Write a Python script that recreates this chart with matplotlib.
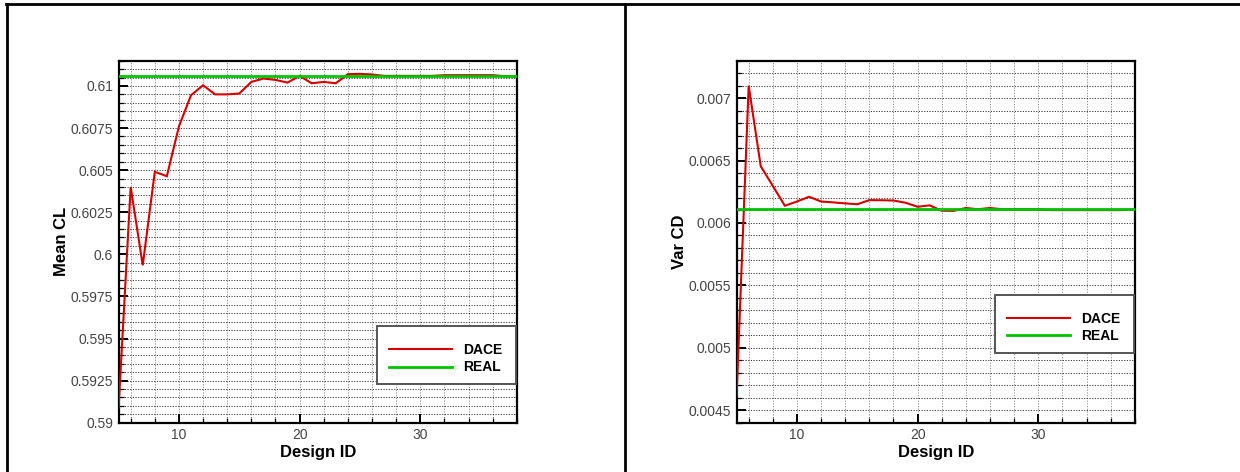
import matplotlib
matplotlib.use("Agg")
import matplotlib.pyplot as plt
from matplotlib.ticker import MultipleLocator, FixedLocator, FixedFormatter
from matplotlib.lines import Line2D
from matplotlib.patches import Rectangle

plt.rcParams['font.family'] = ['Liberation Sans', 'DejaVu Sans']

# ---- data -------------------------------------------------------------
design_id = list(range(5, 39))

mean_cl_dace = [0.5909, 0.6040, 0.59935, 0.60490, 0.60464, 0.60760, 0.60945,
                0.61004, 0.60950, 0.60950, 0.60955, 0.61024, 0.61044, 0.61036,
                0.61020, 0.61060, 0.61016, 0.61024, 0.61016, 0.61070, 0.61072,
                0.61068, 0.61060, 0.61060, 0.61060, 0.61060, 0.61060, 0.61064,
                0.61064, 0.61064, 0.61064, 0.61064, 0.61058, 0.61056]
mean_cl_real = 0.6106

var_cd_dace = [0.004614, 0.007100, 0.006455, 0.006297, 0.006138, 0.006172,
               0.006210, 0.006172, 0.006165, 0.006157, 0.006150, 0.006183,
               0.006182, 0.006180, 0.006162, 0.006130, 0.006141, 0.006098,
               0.006097, 0.006120, 0.006110, 0.006120, 0.006110, 0.006110,
               0.006110, 0.006110, 0.006103, 0.006103, 0.006103, 0.006103,
               0.006103, 0.006103, 0.006103, 0.006110]
var_cd_real = 0.00611

x_ticks = [10, 20, 30]
x_tick_labels = ["10", "20", "30"]

cl_ticks = [0.59, 0.5925, 0.595, 0.5975, 0.60, 0.6025, 0.605, 0.6075, 0.61]
cl_tick_labels = ["0.59", "0.5925", "0.595", "0.5975", "0.6", "0.6025",
                  "0.605", "0.6075", "0.61"]

cd_ticks = [0.0045, 0.005, 0.0055, 0.006, 0.0065, 0.007]
cd_tick_labels = ["0.0045", "0.005", "0.0055", "0.006", "0.0065", "0.007"]

# ---- figure -----------------------------------------------------------
W, H = 1240, 472
fig = plt.figure(figsize=(W / 100, H / 100), dpi=100)
fig.patch.set_facecolor("white")

RED = "#d40000"
GREEN = "#00c400"
TXT = "#444444"


def px_rect(left, top, right, bottom):
    return [left / W, 1 - bottom / H, (right - left) / W, (bottom - top) / H]


def make_panel(rect, y_dace, y_real, ylim, yticks, ylabels, yminor, ylabel,
               legend_box, legend_center):
    ax = fig.add_axes(rect)
    ax.plot(design_id, y_dace, color=RED, lw=1.5, zorder=3, label="DACE",
            solid_joinstyle="miter")
    ax.axhline(y_real, color=GREEN, lw=2.0, zorder=3.5, label="REAL")

    ax.set_xlim(5, 38)
    ax.set_ylim(*ylim)

    ax.xaxis.set_major_locator(FixedLocator(x_ticks))
    ax.xaxis.set_major_formatter(FixedFormatter(x_tick_labels))
    ax.xaxis.set_minor_locator(MultipleLocator(2))
    ax.yaxis.set_major_locator(FixedLocator(yticks))
    ax.yaxis.set_major_formatter(FixedFormatter(ylabels))
    ax.yaxis.set_minor_locator(MultipleLocator(yminor))

    ax.tick_params(which="both", direction="in", top=False, right=False,
                   labelsize=10, labelcolor=TXT)
    ax.tick_params(which="major", length=6.5, width=1.4, pad=4)
    ax.tick_params(which="minor", length=3.4, width=0.9)

    ax.set_axisbelow(True)
    ax.grid(True, which="both", axis="x", color="#8a8a8a", lw=0.7,
            linestyle=(0, (1.2, 1.6)))
    ax.grid(True, which="both", axis="y", color="#1a1a1a", lw=0.6,
            linestyle=(0, (1.4, 1.8)))

    for s in ax.spines.values():
        s.set_linewidth(1.6)
        s.set_color("black")

    ax.set_xlabel("Design ID", fontsize=12, fontweight="bold", labelpad=2)
    ax.set_ylabel(ylabel, fontsize=12, fontweight="bold", labelpad=1)

    # legend frame
    x0, y0, x1, y1 = legend_box
    ax.add_patch(Rectangle((x0, y0), x1 - x0, y1 - y0,
                           transform=ax.transAxes, facecolor="white",
                           edgecolor="#555555", lw=1.4, zorder=4,
                           clip_on=False))
    leg = ax.legend(loc="center", bbox_to_anchor=legend_center,
                    frameon=False, handlelength=4.5, handletextpad=0.8,
                    labelspacing=0.25, borderpad=0.0,
                    prop={"weight": "bold", "size": 10})
    leg.set_zorder(5)
    return ax


ax1 = make_panel(px_rect(118.6, 60.7, 516.8, 422.7), mean_cl_dace,
                 mean_cl_real, (0.59, 0.6115), cl_ticks, cl_tick_labels,
                 0.0005, "Mean CL",
                 (0.648, 0.107, 0.999, 0.267), (0.822, 0.177))
ax2 = make_panel(px_rect(736.6, 60.7, 1134.8, 422.7), var_cd_dace,
                 var_cd_real, (0.0044, 0.0073), cd_ticks, cd_tick_labels,
                 0.0001, "Var CD",
                 (0.648, 0.193, 0.999, 0.354), (0.822, 0.263))

# table-style frame lines around the two panels
def fig_line(x0, y0, x1, y1, lw=2.0):
    fig.add_artist(Line2D([x0 / W, x1 / W], [1 - y0 / H, 1 - y1 / H],
                          color="black", lw=lw, transform=fig.transFigure))

fig_line(6, 4, 1240, 4)
fig_line(7, 4, 7, 472)
fig_line(625, 4, 625, 472)

fig.savefig("out.png", dpi=100, facecolor="white")
